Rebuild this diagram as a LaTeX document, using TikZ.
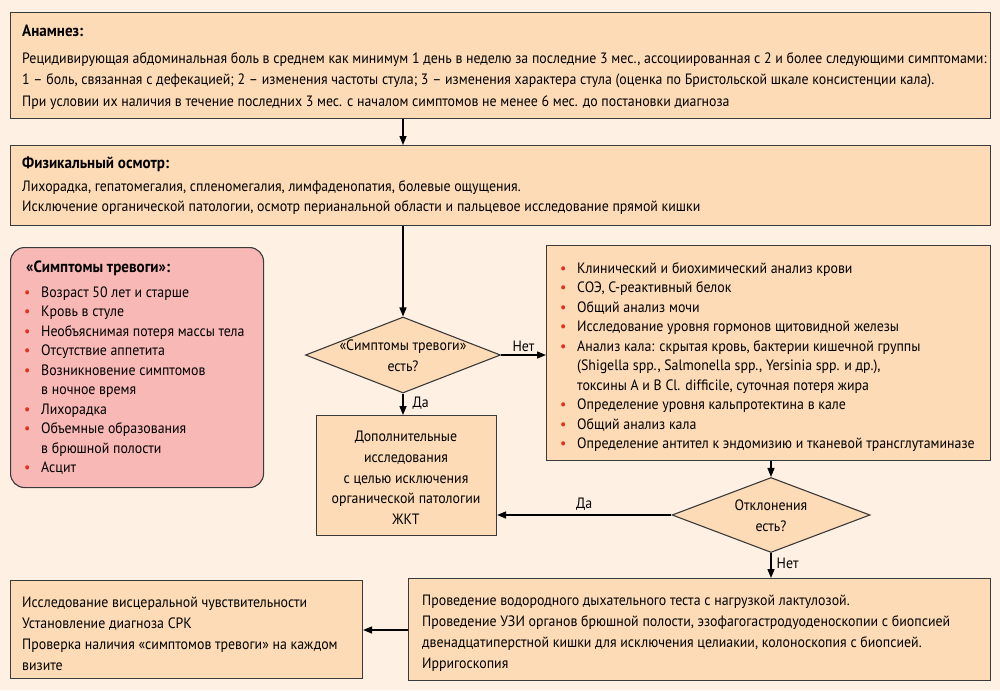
\documentclass[tikz,border=0pt]{standalone}
\usepackage{fontspec}
\setmainfont{PT Sans}[FakeStretch=0.925]
\usetikzlibrary{shapes.geometric,arrows.meta}
\definecolor{bg}{HTML}{FEF1E3}
\definecolor{boxfill}{HTML}{FDDBB6}
\definecolor{pinkfill}{HTML}{F8B8B6}
\definecolor{edge}{HTML}{3A3A3A}
\definecolor{bul}{HTML}{E2301F}
\newcommand{\bl}{\makebox[17pt][l]{\textcolor{bul}{\textbullet}}}
\newcommand{\ind}{\hspace*{17pt}}
\newcommand{\ttl}[1]{{\fontsize{16.3}{18}\selectfont\textbf{#1}}}
\tikzset{
  box/.style={draw=edge, line width=1.1pt, fill=boxfill, rectangle, anchor=north west, inner sep=0pt},
  pbox/.style={draw=edge, line width=1.1pt, fill=pinkfill, rectangle, rounded corners=14pt, anchor=north west, inner sep=0pt},
  dia/.style={draw=edge, line width=1.1pt, fill=boxfill, diamond, inner sep=0pt},
  txt/.style={anchor=north west, inner sep=0pt, align=left, font=\fontsize{15}{21.5}\selectfont},
  ctxt/.style={inner sep=0pt, align=center, font=\fontsize{15}{20.7}\selectfont},
  lab/.style={inner sep=0pt, font=\fontsize{15}{17}\selectfont},
  arr/.style={draw=black, line width=1.4pt, -{Triangle[length=9pt,width=7pt]}},
}
\begin{document}
\begin{tikzpicture}[x=1pt,y=-1pt]
\fill[bg] (0,0) rectangle (1000,690);
\useasboundingbox (0,0) rectangle (1000,690);
% Anamnesis
\node[box, minimum width=980pt, minimum height=106pt] (anam) at (10,12) {};
\node[txt] (anamt) at (22,25) {\ttl{Анамнез:}\\[5pt]
Рецидивирующая абдоминальная боль в среднем как минимум 1 день в неделю за последние 3 мес., ассоциированная с 2 и более следующими симптомами:\\
1 – боль, связанная с дефекацией; 2 – изменения частоты стула; 3 – изменения характера стула (оценка по Бристольской шкале консистенции кала).\\
При условии их наличия в течение последних 3 мес. с началом симптомов не менее 6 мес. до постановки диагноза};
% Physical exam
\node[box, minimum width=980pt, minimum height=80pt] (phys) at (10,145) {};
\node[txt, font=\fontsize{15}{20.5}\selectfont] (physt) at (22,157) {\ttl{Физикальный осмотр:}\\[2pt]
Лихорадка, гепатомегалия, спленомегалия, лимфаденопатия, болевые ощущения.\\
Исключение органической патологии, осмотр перианальной области и пальцевое исследование прямой кишки};
% Alarm symptoms
\node[pbox, minimum width=253pt, minimum height=240pt] (alarm) at (10,247) {};
\node[txt, font=\fontsize{15}{19.5}\selectfont] (alarmt) at (24,261) {\hspace*{2pt}\ttl{«Симптомы тревоги»:}\\[5pt]
\bl Возраст 50 лет и старше\\
\bl Кровь в стуле\\
\bl Необъяснимая потеря массы тела\\
\bl Отсутствие аппетита\\
\bl Возникновение симптомов\\
\ind в ночное время\\
\bl Лихорадка\\
\bl Объемные образования\\
\ind в брюшной полости\\
\bl Асцит};
% Diamond 1
\node[dia, minimum width=195pt, minimum height=76pt] (d1) at (403,355) {};
\node[ctxt] (d1t) at (403,356) {«Симптомы тревоги»\\есть?};
% Right list
\node[box, minimum width=444pt, minimum height=215pt] (tests) at (546,245) {};
\node[txt, font=\fontsize{15}{19.5}\selectfont] (testst) at (560,262) {\bl Клинический и биохимический анализ крови\\
\bl СОЭ, С-реактивный белок\\
\bl Общий анализ мочи\\
\bl Исследование уровня гормонов щитовидной железы\\
\bl Анализ кала: скрытая кровь, бактерии кишечной группы\\
\ind (Shigella spp., Salmonella spp., Yersinia spp. и др.),\\
\ind токсины A и B Cl. difficile, суточная потеря жира\\
\bl Определение уровня кальпротектина в кале\\
\bl Общий анализ кала\\
\bl Определение антител к эндомизию и тканевой трансглутаминазе};
% Additional
\node[box, minimum width=180pt, minimum height=120pt] (add) at (316,415) {};
\node[ctxt] (addt) at (406,478) {Дополнительные\\исследования\\с целью исключения\\органической патологии\\ЖКТ};
% Diamond 2
\node[dia, minimum width=198pt, minimum height=75pt] (d2) at (771,515) {};
\node[ctxt] (d2t) at (771,516) {Отклонения\\есть?};
% Bottom right
\node[box, minimum width=582pt, minimum height=102pt] (breath) at (408,578) {};
\node[txt, font=\fontsize{15}{21}\selectfont] (breatht) at (422,595) {Проведение водородного дыхательного теста с нагрузкой лактулозой.\\
Проведение УЗИ органов брюшной полости, эзофагогастродуоденоскопии с биопсией\\
двенадцатиперстной кишки для исключения целиакии, колоноскопия с биопсией.\\
Ирригоскопия};
% Bottom left
\node[box, minimum width=352pt, minimum height=98pt] (ibs) at (10,580) {};
\node[txt, font=\fontsize{15}{21}\selectfont] (ibst) at (22,597) {Исследование висцеральной чувствительности\\
Установление диагноза СРК\\
Проверка наличия «симптомов тревоги» на каждом\\
визите};
% Connectors
\draw[arr] (anam.south west -| d1.north) -- (phys.north west -| d1.north);
\draw[arr] (phys.south west -| d1.north) -- (d1.north);
\draw[arr] (d1.east) -- (tests.west |- d1.east) node[lab, pos=0.5, above=3pt] (nyes) {Нет};
\draw[arr] (d1.south) -- (add.north west -| d1.south) node[lab, pos=0.45, right=9pt] (da1) {Да};
\draw[arr] (tests.south west -| d2.north) -- (d2.north);
\draw[arr] (d2.west) -- (add.east |- d2.west) node[lab, pos=0.5, above=4pt] (da2) {Да};
\draw[arr] (d2.south) -- (breath.north west -| d2.south) node[lab, pos=0.4, right=5pt] (net2) {Нет};
\draw[arr] (breath.west |- 0,630) -- (ibs.east |- 0,630);
\end{tikzpicture}
\end{document}
